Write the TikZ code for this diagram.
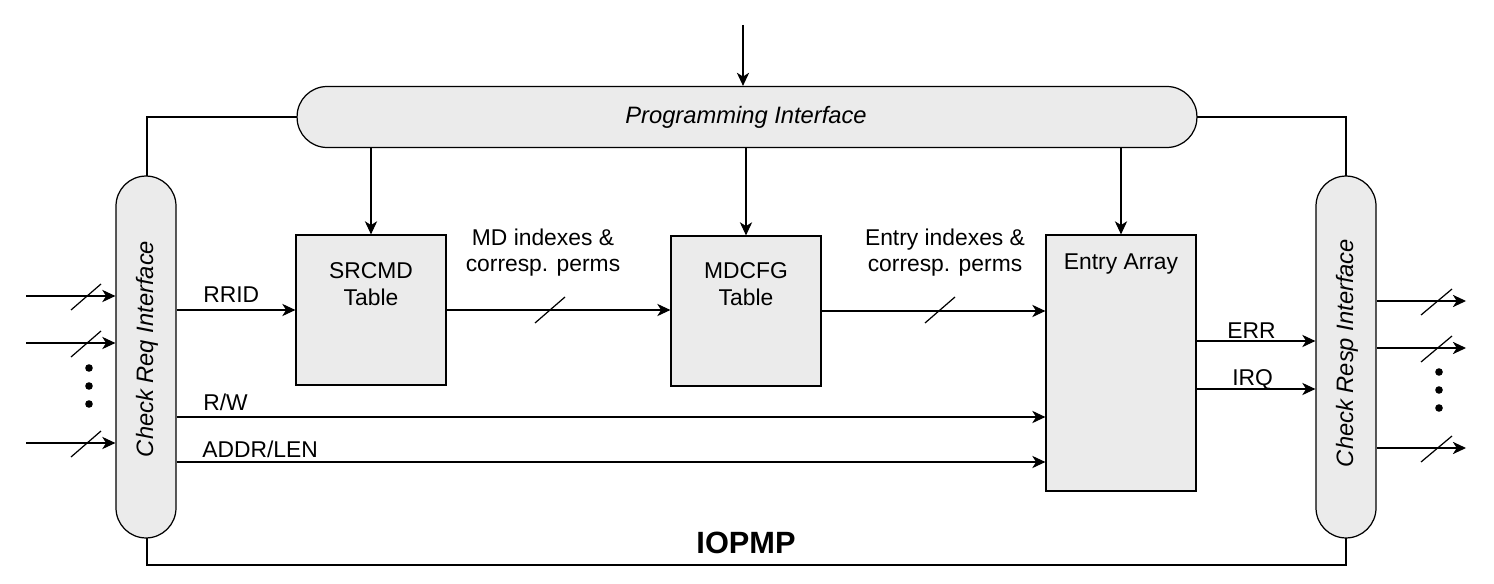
\documentclass[tikz,border=0pt]{standalone}
\usepackage{fontspec}
\setmainfont{Liberation Sans}
\usetikzlibrary{arrows.meta}
\definecolor{boxgray}{RGB}{235,235,235}
\tikzset{
    pill/.style={draw, fill=boxgray, line width=0.7pt, rounded corners=0.6cm, inner sep=0pt},
    blk/.style={draw, fill=boxgray, line width=0.7pt, minimum width=3cm, inner sep=0pt},
    sig/.style={line width=0.7pt, -{Stealth[length=7.5pt,width=7pt,inset=2.2pt]}},
    txt/.style={font=\fontsize{13}{15.3}\selectfont, align=center, inner sep=0pt}
}

\begin{document}
\begin{tikzpicture}[x=0.02cm, y=-0.02cm]
        \useasboundingbox (0,0) rectangle (1494,584);
        % IOPMP frame
        \draw[line width=1.5pt] (147,117) rectangle (1346,565);
        \node[txt, font=\fontsize{17.5}{20}\selectfont\bfseries] (iopmp) at (746,543) {IOPMP};

        % interfaces
        \node[pill, minimum width=18cm, minimum height=1.22cm] (prog) at (747,117) {};
        \node[txt, font=\fontsize{13.5}{15.3}\selectfont\itshape] (progtxt) at (746,117) {Programming Interface};
        \node[pill, minimum width=1.2cm, minimum height=7.24cm] (creq) at (146,357) {};
        \node[txt, rotate=90, font=\fontsize{13.5}{15.3}\selectfont\itshape] (creqtxt) at (147,349) {Check Req Interface};
        \node[pill, minimum width=1.2cm, minimum height=7.24cm] (cresp) at (1346,357) {};
        \node[txt, rotate=90, font=\fontsize{13.5}{15.3}\selectfont\itshape] (cresptxt) at (1347,353) {Check Resp Interface};

        % tables (base = last line)
        \node[blk, minimum height=3cm] (srcmd) at (371,310) {};
        \node[txt, anchor=base] (srcmdtxt) at (371,305) {SRCMD\\Table};
        \node[blk, minimum height=3cm] (mdcfg) at (746,311) {};
        \node[txt, anchor=base] (mdcfgtxt) at (746,305) {MDCFG\\Table};
        \node[blk, minimum height=5.12cm] (entry) at (1121,363) {};
        \node[txt, anchor=base] (entrytxt) at (1121,270) {Entry Array};

        % programming paths
        \coordinate (progin) at (743,25);
        \draw[sig] (progin) -- (progin |- prog.north);
        \draw[sig] (srcmd.north |- prog.south) -- (srcmd.north);
        \draw[sig] (mdcfg.north |- prog.south) -- (mdcfg.north);
        \draw[sig] (entry.north |- prog.south) -- (entry.north);

        % requests in
        \foreach \y [count=\i] in {296,343,443} {
            \coordinate (in\i) at (26,\y);
            \draw[sig] (in\i) -- (in\i -| creq.west);
            \draw[line width=0.7pt] (71,\y+14) -- (101,\y-12);
        }
        \foreach \y in {368,386,404}
            \fill (89,\y) circle (3.8);

        % responses out
        \foreach \y [count=\i] in {301,348,448} {
            \coordinate (out\i) at (1466,\y);
            \draw[sig] (out\i -| cresp.east) -- (out\i);
            \draw[line width=0.7pt] (1421,\y+14) -- (1452,\y-12);
        }
        \foreach \y in {372,390,408}
            \fill (1439,\y) circle (3.8);

        % request path
        \draw[sig] (creq.east |- srcmd.west) -- (srcmd.west);
        \node[txt, anchor=base west] (rrid) at (203,302) {RRID};
        \draw[sig] (srcmd.east) -- (mdcfg.west |- srcmd.east);
        \draw[line width=0.7pt] (535,323) -- (565,297);
        \node[txt, anchor=base] (mdidx) at (543,272) {MD indexes \&\\corresp. perms};
        \draw[sig] (mdcfg.east) -- (entry.west |- mdcfg.east);
        \draw[line width=0.7pt] (925,323) -- (955,297);
        \node[txt, anchor=base] (entidx) at (945,272) {Entry indexes \&\\corresp. perms};
        \draw[sig] (creq.east |- 0,417) -- (entry.west |- 0,417);
        \node[txt, anchor=base west] (rw) at (203,410) {R/W};
        \draw[sig] (creq.east |- 0,462) -- (entry.west |- 0,462);
        \node[txt, anchor=base west] (addr) at (202,457) {ADDR/LEN};

        % response path
        \draw[sig] (entry.east |- 0,341) -- (cresp.west |- 0,341);
        \node[txt, anchor=base west] (err) at (1227,338) {ERR};
        \draw[sig] (entry.east |- 0,389) -- (cresp.west |- 0,389);
        \node[txt, anchor=base west] (irq) at (1232,385) {IRQ};
    \end{tikzpicture}
\end{document}
